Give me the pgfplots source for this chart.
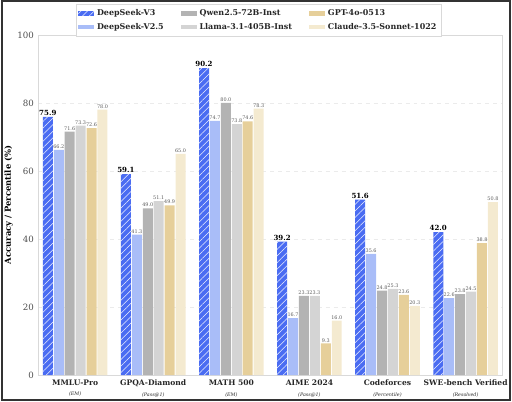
\documentclass[border=0pt]{standalone}
\usepackage{fontspec}
\setmainfont{DejaVu Serif}
\usepackage{pgfplots}
\pgfplotsset{compat=1.18}
\usetikzlibrary{patterns.meta}

\definecolor{cvthree}{HTML}{4A6CF2}
\definecolor{cvtwo}{HTML}{A9BDF8}
\definecolor{cqwen}{HTML}{B3B3B3}
\definecolor{cllama}{HTML}{D4D4D4}
\definecolor{cgpt}{HTML}{E6CF9A}
\definecolor{cclaude}{HTML}{F4EAD0}

\newcommand{\subl}[1]{{\fontsize{3.6}{4}\selectfont\mdseries\itshape #1}}

\begin{document}
\begin{tikzpicture}
\begin{axis}[
    width=348.75pt, height=255.75pt, scale only axis,
    clip=false,
    xmin=-0.47, xmax=5.47,
    ymin=0, ymax=100,
    ytick={0,20,40,60,80,100},
    xtick={0,1,2,3,4,5},
    xticklabels={
        {MMLU-Pro\\\subl{(EM)}},
        {GPQA-Diamond\\\subl{(Pass@1)}},
        {MATH 500\\\subl{(EM)}},
        {AIME 2024\\\subl{(Pass@1)}},
        {Codeforces\\\subl{(Percentile)}},
        {SWE-bench Verified\\\subl{(Resolved)}}},
    xticklabel style={align=center, font=\fontsize{5.7}{8}\selectfont\bfseries, text=black!85},
    yticklabel style={font=\fontsize{6.5}{7}\selectfont, text=black!70},
    /pgf/number format/assume math mode=true,
    major tick length=0pt,
    axis line style={draw=black!15},
    ymajorgrids,
    grid style={dashed, draw=black!8, line width=0.3pt},
    ylabel={Accuracy / Percentile (\%)},
    ylabel style={at={(axis description cs:-0.0645,0.5)}, anchor=center,
        font=\fontsize{6.3}{7}\selectfont\bfseries},
    ybar, bar width=0.128,
    nodes near coords,
    nodes near coords style={/pgf/number format/fixed, /pgf/number format/fixed zerofill,
        /pgf/number format/precision=1},
    every node near coord/.append style={font=\fontsize{3.7}{4}\selectfont, text=black!65, inner sep=0.8pt},
    legend columns=3,
    legend cell align=left,
    legend style={at={(axis description cs:0.475,1.09)}, anchor=north,
        draw=black!15, font=\fontsize{6}{8.3}\selectfont\bfseries, text=black!85,
        inner sep=1.8pt,
        /tikz/every even column/.append style={column sep=11pt}},
    legend image code/.code={\path[#1, draw=none] (0pt,-1.7pt) rectangle (12pt,1.7pt);},
]

% DeepSeek-V3
\addplot[fill=cvthree, draw=none, bar shift=-0.35,
    postaction={pattern={Lines[angle=45, distance=3.5pt, line width=0.4pt]}, pattern color=white!90!cvthree},
    every node near coord/.append style={font=\fontsize{5.3}{6}\selectfont\bfseries, text=black}]
    coordinates {(0,75.9)(1,59.1)(2,90.2)(3,39.2)(4,51.6)(5,42.0)};
\addlegendentry{DeepSeek-V3}

% Qwen2.5-72B-Inst
\addplot[fill=cqwen, draw=none, bar shift=-0.07]
    coordinates {(0,71.6)(1,49.0)(2,80.0)(3,23.3)(4,24.8)(5,23.8)};
\addlegendentry{Qwen2.5-72B-Inst}

% GPT-4o-0513
\addplot[fill=cgpt, draw=none, bar shift=0.21]
    coordinates {(0,72.6)(1,49.9)(2,74.6)(3,9.3)(4,23.6)(5,38.8)};
\addlegendentry{GPT-4o-0513}

% DeepSeek-V2.5
\addplot[fill=cvtwo, draw=none, bar shift=-0.21]
    coordinates {(0,66.2)(1,41.3)(2,74.7)(3,16.7)(4,35.6)(5,22.6)};
\addlegendentry{DeepSeek-V2.5}

% Llama-3.1-405B-Inst
\addplot[fill=cllama, draw=none, bar shift=0.07]
    coordinates {(0,73.3)(1,51.1)(2,73.8)(3,23.3)(4,25.3)(5,24.5)};
\addlegendentry{Llama-3.1-405B-Inst}

% Claude-3.5-Sonnet-1022
\addplot[fill=cclaude, draw=none, bar shift=0.35]
    coordinates {(0,78.0)(1,65.0)(2,78.3)(3,16.0)(4,20.3)(5,50.8)};
\addlegendentry{Claude-3.5-Sonnet-1022}

% outer frame of the figure
\draw[line width=1.5pt, draw=black!80]
    ([shift={(-27.75pt,-18.75pt)}]rel axis cs:0,0) rectangle ++(382.5pt,300pt);
\end{axis}
\end{tikzpicture}
\end{document}
